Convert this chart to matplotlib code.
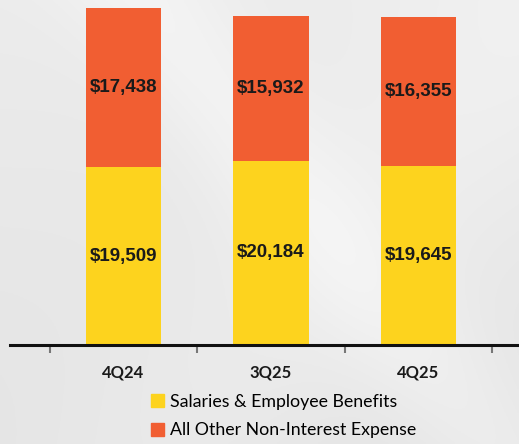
import numpy as np
import matplotlib
matplotlib.use("Agg")
import matplotlib.pyplot as plt
from matplotlib.patches import Patch

quarters = ["4Q24", "3Q25", "4Q25"]
salaries = [19509, 20184, 19645]
other_expense = [17438, 15932, 16355]
series_names = ["Salaries & Employee Benefits", "All Other Non-Interest Expense"]

yellow = "#FDD31E"
orange = "#F15E32"

W, H = 519, 444
fig = plt.figure(figsize=(W / 100, H / 100), dpi=100)

# soft grey backdrop with a faint diagonal sheen
bg = fig.add_axes([0, 0, 1, 1], zorder=-10)
yy, xx = np.mgrid[0:1:200j, 0:1:240j]
base = 0.925 + 0.03 * np.exp(-((xx * 0.9 - yy * 0.6 - 0.25) ** 2) / 0.02)
base += 0.02 * np.exp(-((xx * 0.7 + yy * 0.5 - 0.75) ** 2) / 0.05)
base -= 0.03 * yy
base = np.clip(base, 0, 1)
bg.imshow(np.dstack([base] * 3), extent=[0, 1, 0, 1], aspect="auto", origin="upper")
bg.axis("off")

ax = fig.add_axes([10 / W, 1 - 345 / H, 509 / W, 345 / H])
ax.patch.set_alpha(0)
x = np.arange(len(quarters))
width = 0.51
ax.bar(x, salaries, width, color=yellow, label=series_names[0])
ax.bar(x, other_expense, width, bottom=salaries, color=orange, label=series_names[1])

label_font = dict(family="Liberation Sans", weight="bold", size=13.5, color="#1a1a1a",
                  ha="center", va="center")
for xi, s, o in zip(x, salaries, other_expense):
    ax.text(xi, s / 2, f"${s:,}", **label_font)
    ax.text(xi, s + o / 2, f"${o:,}", **label_font)

ax.set_xlim(-0.7695, 2.681)
ax.set_ylim(0, 37825)
ax.set_yticks([])
for side in ["left", "right", "top"]:
    ax.spines[side].set_visible(False)
ax.spines["bottom"].set_linewidth(2.2)
ax.spines["bottom"].set_color("#111111")

ax.set_xticks(np.arange(-0.5, len(quarters), 1.0))
ax.set_xticklabels([])
ax.tick_params(axis="x", which="major", direction="out", length=6, width=1.5,
               color="#777777")
ax.set_xticks(x, minor=True)
ax.set_xticklabels(quarters, minor=True, fontfamily="Lato", fontweight="bold",
                   fontsize=12, color="#1a1a1a")
ax.tick_params(axis="x", which="minor", length=0, pad=14)

handles = [Patch(color=yellow), Patch(color=orange)]
fig.legend(handles, series_names, loc="upper left",
           bbox_to_anchor=(151 / W, 1 - 394 / H), frameon=False,
           prop=dict(family="Lato", size=12.8), handlelength=0.75, handleheight=0.75,
           handletextpad=0.3, labelspacing=0.7, borderaxespad=0, borderpad=0)

fig.savefig("out.png", dpi=100)
